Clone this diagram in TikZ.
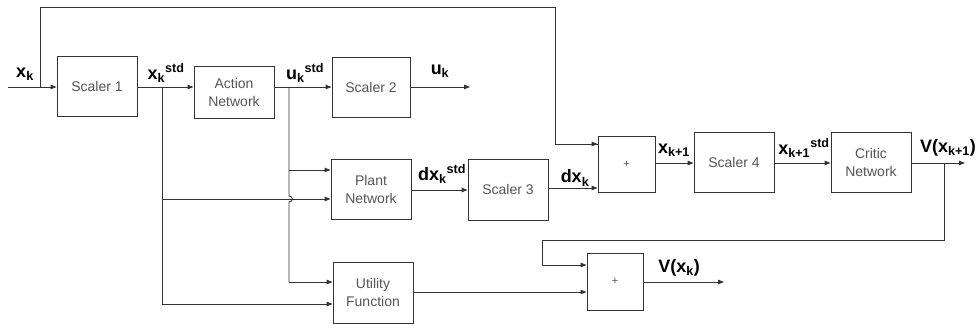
\documentclass[tikz,border=0pt]{standalone}
\usepackage{fontspec}
\setmainfont{Liberation Sans}
\usetikzlibrary{arrows.meta,calc}
\definecolor{boxtext}{HTML}{555555}
\definecolor{linec}{HTML}{333333}
\begin{document}
\begin{tikzpicture}[x=1pt,y=-1pt,
  blk/.style={draw=linec,line width=0.9pt,fill=white,minimum width=#1,inner sep=0pt,align=center,
    font=\fontsize{14}{18}\selectfont,text=boxtext},
  conn/.style={draw=linec,line width=0.9pt},
  arr/.style={conn,-{Triangle[length=6pt,width=4.5pt]}},
  lbl/.style={font=\fontsize{18}{20}\bfseries\selectfont,inner sep=0pt}]
\useasboundingbox (0,0) rectangle (977,326);
% boxes
\node[blk=80pt,minimum height=60pt] (s1) at (97,86) {Scaler 1};
\node[blk=80pt,minimum height=52pt] (an) at (234,92) {Action\\Network};
\node[blk=78pt,minimum height=60pt] (s2) at (371,87) {Scaler 2};
\node[blk=80pt,minimum height=60pt] (pn) at (371,189) {Plant\\Network};
\node[blk=80pt,minimum height=61pt] (s3) at (508,189.5) {Scaler 3};
\node[blk=80pt,minimum height=61pt] (uf) at (373,292.5) {Utility\\Function};
\node[blk=57pt,minimum height=56pt,font=\fontsize{11}{12}\selectfont] (p1) at (626.5,164) {+};
\node[blk=80pt,minimum height=60pt] (s4) at (734,162) {Scaler 4};
\node[blk=80pt,minimum height=60pt] (cn) at (871,162) {Critic\\Network};
\node[blk=56pt,minimum height=57pt,font=\fontsize{11}{12}\selectfont] (p2) at (615,281.5) {+};
% coordinates
\coordinate (in) at (8,87);
\coordinate (jx) at (40,87);
\coordinate (jxs) at (162,87);
\coordinate (jus) at (289,87);
\coordinate (uout) at (470,87);
\coordinate (jv) at (944,163);
\coordinate (vout) at (965,163);
\coordinate (vkout) at (724,282);
% main line
\draw[arr] (in) -- (s1.west |- in);
\draw[conn] (jx) |- (555,7) |- coordinate[pos=0.5] (fbk) (p1.west |- 0,144);
\draw[arr] (fbk) -- (p1.west |- 0,144);
\draw[arr] (s1.east |- jxs) -- (an.west |- jxs);
\draw[arr] (an.east |- jus) -- (s2.west |- jus);
\draw[arr] (s2.east |- uout) -- (uout);
% x_k^std branches
\draw[conn] (jxs) -- (162,304);
\draw[arr] (162,199) -- (pn.west |- 0,199);
\draw[arr] (162,304) -- (uf.west |- 0,304);
% u_k^std branches with hop
\draw[conn] (jus) -- (289,196) .. controls (293.5,196) and (293.5,202) .. (289,202) -- (289,282);
\draw[arr] (289,170) -- (pn.west |- 0,170);
\draw[arr] (289,282) -- (uf.west |- 0,282);
% plant chain
\draw[arr] (pn.east |- 0,190) -- (s3.west |- 0,190);
\draw[arr] (s3.east |- 0,188) -- (p1.west |- 0,188);
\draw[arr] (p1.east |- 0,163) -- (s4.west |- 0,163);
\draw[arr] (s4.east |- 0,163) -- (cn.west |- 0,163);
\draw[arr] (cn.east |- vout) -- (vout);
% critic feedback
\draw[conn] (jv) -- (944,240) -- (542,240) -- (542,265);
\draw[arr] (542,265) -- (p2.west |- 0,265);
\draw[arr] (uf.east |- 0,292) -- (p2.west |- 0,292);
\draw[arr] (p2.east |- vkout) -- (vkout);
% labels
\node[lbl] (lxk) at (25,74) {x\textsubscript{k}};
\node[lbl] (lxs) at (166,73) {x\textsubscript{k}\textsuperscript{std}};
\node[lbl] (lus) at (305,73) {u\textsubscript{k}\textsuperscript{std}};
\node[lbl] (luk) at (440,71) {u\textsubscript{k}};
\node[lbl] (ldxs) at (442,174) {dx\textsubscript{k}\textsuperscript{std}};
\node[lbl] (ldx) at (575,178) {dx\textsubscript{k}};
\node[lbl] (lx1) at (674,150) {x\textsubscript{k+1}};
\node[lbl] (lx1s) at (804,148) {x\textsubscript{k+1}\textsuperscript{std}};
\node[lbl] (lv1) at (948,148) {V(x\textsubscript{k+1})};
\node[lbl] (lv) at (679,268) {V(x\textsubscript{k})};
\end{tikzpicture}
\end{document}
